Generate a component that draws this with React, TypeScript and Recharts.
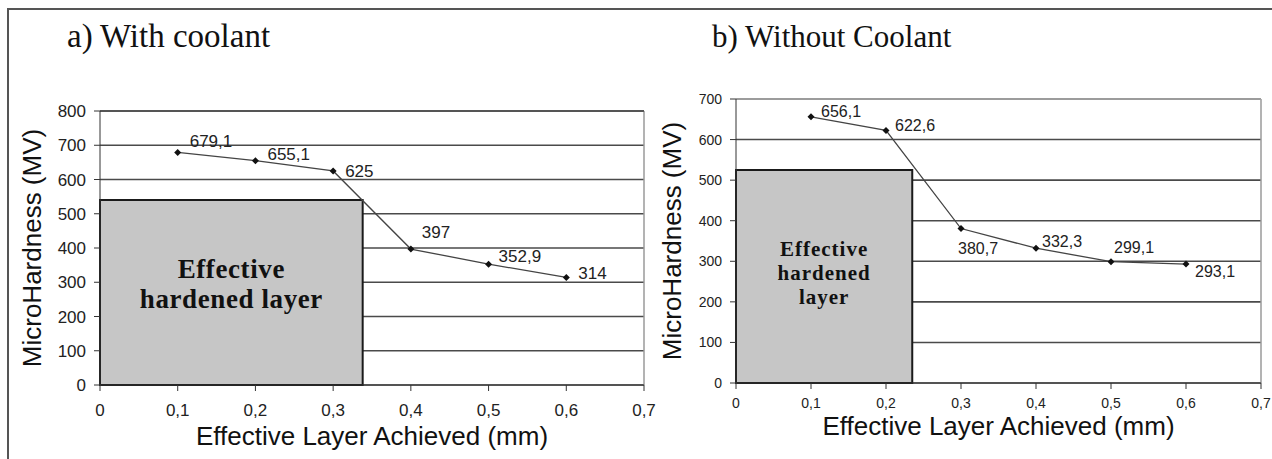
import React from "react";
import {
  ComposedChart,
  Line,
  XAxis,
  YAxis,
  CartesianGrid,
  ReferenceArea,
  ReferenceLine,
  LabelList,
  Label,
} from "recharts";

// depth (mm) and microhardness readings
const DEPTH = [0.1, 0.2, 0.3, 0.4, 0.5, 0.6];
const HARD_WITH = [679.1, 655.1, 625, 397, 352.9, 314];
const HARD_WITHOUT = [656.1, 622.6, 380.7, 332.3, 299.1, 293.1];

const X_TICKS = [0, 0.1, 0.2, 0.3, 0.4, 0.5, 0.6, 0.7];
const Y_TICKS_A = [0, 100, 200, 300, 400, 500, 600, 700, 800];
const Y_TICKS_B = [0, 100, 200, 300, 400, 500, 600, 700];

// extent of the "effective hardened layer" box (depth, hardness)
const BOX_A = [0.338, 540];
const BOX_B = [0.235, 525];

// label nudges from each point [dx, dy]
const NUDGE_A = [[12, -5], [12, -1], [12, 6], [11, -11], [10, -2], [12, 2]];
const NUDGE_B = [[10, 0], [9, 1], [-3, 25], [6, -1], [3, -9], [9, 13]];

const SANS = "'Liberation Sans', Arial, sans-serif";
const SERIF = "'Liberation Serif', 'Times New Roman', serif";

const fmt = (v: number) => String(v).replace(".", ",");

const toRows = (ys: number[]) => DEPTH.map((x, i) => ({ x, y: ys[i] }));

const Diamond = (props: any) => {
  const { cx, cy, index } = props;
  if (cx == null || cy == null) return null;
  const r = 3.5;
  return (
    <path
      key={`d-${index}`}
      d={`M${cx},${cy - r}L${cx + r},${cy}L${cx},${cy + r}L${cx - r},${cy}Z`}
      fill="#111"
    />
  );
};

type PanelProps = {
  rows: { x: number; y: number }[];
  yTicks: number[];
  yMax: number;
  box: number[];
  nudge: number[][];
  width: number;
  height: number;
  margin: { top: number; right: number; bottom: number; left: number };
  yAxisWidth: number;
  xAxisHeight: number;
  tickSize: number;
  labelSize: number;
  xTickMargin: number;
  boxLines: string[];
  boxFont: number;
  boxLineH: number;
  boxDy: number;
  boxSpacing: number;
  yTitleDx: number;
  xTitleDy: number;
  topStroke: string;
};

function Panel(p: PanelProps) {
  const renderLabel = (lp: any) => {
    const { x, y, value, index } = lp;
    const [dx, dy] = p.nudge[index] || [8, -4];
    return (
      <text
        key={`l-${index}`}
        x={x + dx}
        y={y + dy}
        fontFamily={SANS}
        fontSize={p.labelSize}
        fill="#222"
      >
        {fmt(value)}
      </text>
    );
  };

  const renderBoxText = (lp: any) => {
    const vb = lp.viewBox;
    if (!vb) return null;
    const cx = vb.x + vb.width / 2;
    const cy = vb.y + vb.height / 2;
    const n = p.boxLines.length;
    const first = cy - ((n - 1) * p.boxLineH) / 2 + p.boxFont * 0.33 + p.boxDy;
    return (
      <text
        textAnchor="middle"
        fontFamily={SERIF}
        fontWeight="bold"
        fontSize={p.boxFont}
        letterSpacing={p.boxSpacing}
        fill="#111"
      >
        {p.boxLines.map((t, i) => (
          <tspan key={t} x={cx} y={first + i * p.boxLineH}>
            {t}
          </tspan>
        ))}
      </text>
    );
  };

  return (
    <ComposedChart
      width={p.width}
      height={p.height}
      data={p.rows}
      margin={p.margin}
    >
      <CartesianGrid vertical={false} stroke="#4a4a4a" strokeWidth={1.6} />
      <ReferenceLine x={0.7} stroke="#9a9a9a" strokeWidth={1.5} />
      <ReferenceLine y={p.yMax} stroke={p.topStroke} strokeWidth={1.6} />
      <XAxis
        type="number"
        dataKey="x"
        domain={[0, 0.7]}
        ticks={X_TICKS}
        interval={0}
        tickFormatter={fmt}
        height={p.xAxisHeight}
        stroke="#333"
        tickSize={6}
        tickMargin={p.xTickMargin}
        tick={{ fill: "#222", fontSize: p.tickSize, fontFamily: SANS }}
      >
        <Label
          content={(lp: any) => {
            const vb = lp.viewBox;
            if (!vb) return null;
            return (
              <text
                x={vb.x + vb.width / 2}
                y={vb.y + p.xTitleDy}
                textAnchor="middle"
                fontFamily={SANS}
                fontSize={26}
                fill="#111"
              >
                Effective Layer Achieved (mm)
              </text>
            );
          }}
        />
      </XAxis>
      <YAxis
        type="number"
        domain={[0, p.yMax]}
        ticks={p.yTicks}
        interval={0}
        width={p.yAxisWidth}
        stroke="#333"
        tickSize={6}
        tickMargin={8}
        tick={{ fill: "#222", fontSize: p.tickSize, fontFamily: SANS }}
      >
        <Label
          content={(lp: any) => {
            const vb = lp.viewBox;
            if (!vb) return null;
            const tx = vb.x + p.yTitleDx;
            const ty = vb.y + vb.height / 2;
            return (
              <text
                x={tx}
                y={ty}
                transform={`rotate(-90 ${tx} ${ty})`}
                textAnchor="middle"
                dominantBaseline="central"
                fontFamily={SANS}
                fontSize={26}
                fill="#111"
              >
                MicroHardness (MV)
              </text>
            );
          }}
        />
      </YAxis>
      <ReferenceArea
        x1={0}
        x2={p.box[0]}
        y1={0}
        y2={p.box[1]}
        fill="#c6c6c6"
        fillOpacity={1}
        stroke="#1a1a1a"
        strokeWidth={2}
        label={renderBoxText}
      />
      <Line
        type="linear"
        dataKey="y"
        stroke="#444"
        strokeWidth={1.3}
        dot={Diamond}
        activeDot={false}
        isAnimationActive={false}
      >
        <LabelList dataKey="y" content={renderLabel} />
      </Line>
    </ComposedChart>
  );
}

export default function App() {
  return (
    <div
      style={{
        position: "absolute",
        left: 0,
        top: 0,
        width: 1272,
        height: 459,
        background: "#fff",
        overflow: "hidden",
      }}
    >
      <div style={{ position: "absolute", left: 0, top: 0 }}>
        <Panel
          rows={toRows(HARD_WITH)}
          yTicks={Y_TICKS_A}
          yMax={800}
          box={BOX_A}
          nudge={NUDGE_A}
          width={660}
          height={459}
          margin={{ top: 111, right: 16, bottom: 14, left: 20 }}
          yAxisWidth={80}
          xAxisHeight={60}
          tickSize={17}
          labelSize={17}
          xTickMargin={13}
          boxLines={["Effective", "hardened layer"]}
          boxFont={27}
          boxLineH={30}
          boxDy={-8}
          boxSpacing={0.6}
          yTitleDx={12}
          xTitleDy={60}
          topStroke="#4a4a4a"
        />
      </div>
      <div style={{ position: "absolute", left: 655, top: 0 }}>
        <Panel
          rows={toRows(HARD_WITHOUT)}
          yTicks={Y_TICKS_B}
          yMax={700}
          box={BOX_B}
          nudge={NUDGE_B}
          width={617}
          height={459}
          margin={{ top: 99, right: 11, bottom: 20, left: 21 }}
          yAxisWidth={60}
          xAxisHeight={56}
          tickSize={14}
          labelSize={16}
          xTickMargin={9}
          boxLines={["Effective", "hardened", "layer"]}
          boxFont={21}
          boxLineH={24}
          boxDy={-3}
          boxSpacing={1}
          yTitleDx={-4}
          xTitleDy={52}
          topStroke="#a8a8a8"
        />
      </div>
      <svg
        width={1272}
        height={459}
        style={{ position: "absolute", left: 0, top: 0, pointerEvents: "none" }}
      >
        <line x1={7} y1={9} x2={1272} y2={9} stroke="#555" strokeWidth={2} />
        <line x1={8} y1={8} x2={8} y2={459} stroke="#555" strokeWidth={2} />
        <text x={67} y={47} fontFamily={SERIF} fontSize={33} fill="#111">
          a)
        </text>
        <text x={100} y={47} fontFamily={SERIF} fontSize={33} fill="#111">
          With coolant
        </text>
        <text x={712} y={47} fontFamily={SERIF} fontSize={31} fill="#111">
          b) Without Coolant
        </text>
      </svg>
    </div>
  );
}
